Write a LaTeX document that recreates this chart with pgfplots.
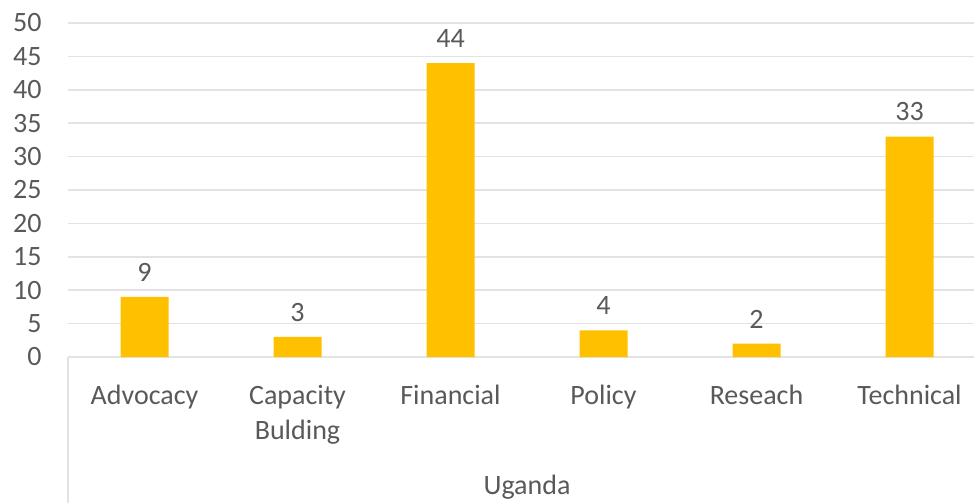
\documentclass[border=0pt]{standalone}
\usepackage{fontspec}
\setmainfont{Carlito}
\usepackage{pgfplots}
\pgfplotsset{compat=1.18}
\definecolor{bargold}{HTML}{FFC000}
\definecolor{txtgray}{HTML}{595959}
\definecolor{gridgray}{HTML}{E3E3E3}
\begin{document}
\begin{tikzpicture}
\useasboundingbox (0,0) rectangle (487bp,251.5bp);
\begin{axis}[
  at={(34bp,73bp)}, anchor=south west,
  scale only axis,
  width=459bp, height=167bp,
  ymin=0, ymax=50,
  xmin=-0.5, xmax=5.5,
  ytick={0,5,...,50},
  xtick=data,
  xticklabels={Advocacy,{Capacity\\Bulding},Financial,Policy,Reseach,Technical},
  axis line style={draw=none},
  major tick length=0pt,
  ymajorgrids,
  grid style={gridgray, line width=0.8bp},
  font=\fontsize{14bp}{17.5bp}\selectfont,
  /pgf/number format/assume math mode=true,
  yticklabel style={inner sep=0pt, anchor=east, xshift=-13bp, text=txtgray},
  xticklabel style={inner sep=0pt, anchor=north, yshift=-14bp, align=center, text=txtgray},
  ybar, bar width=24bp,
  nodes near coords,
  every node near coord/.append style={text=txtgray, inner sep=0pt, anchor=south, yshift=7.5bp},
  clip=false,
]
\addplot[fill=bargold, draw=none] coordinates {(0,9) (1,3) (2,44) (3,4) (4,2) (5,33)};
\draw[gridgray, line width=0.8bp] (rel axis cs:0,0) -- ([yshift=-75bp]rel axis cs:0,0);
\node[text=txtgray, inner sep=0pt] at (rel axis cs:0.5,0) [yshift=-65bp] {Uganda};
\end{axis}
\end{tikzpicture}
\end{document}
